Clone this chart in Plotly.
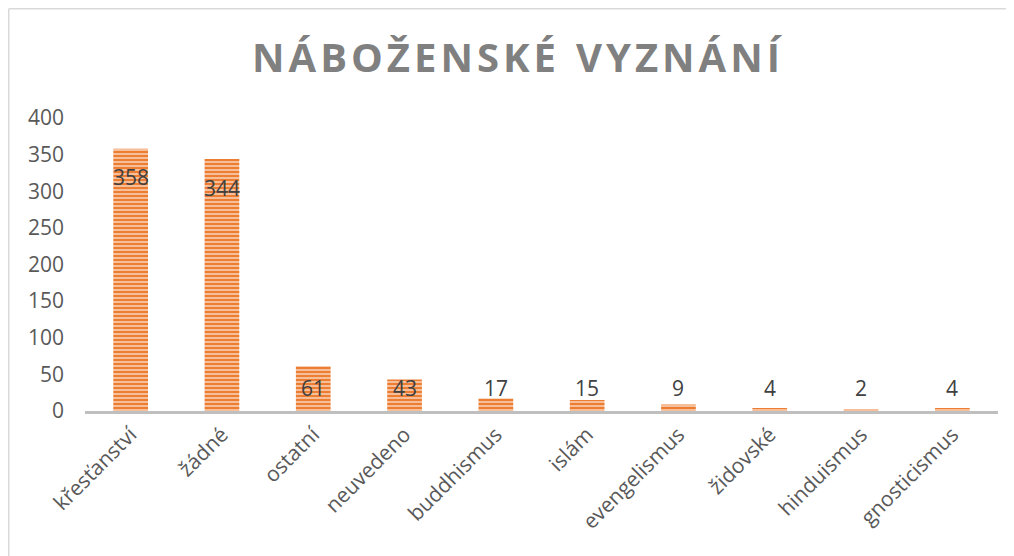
import plotly.graph_objects as go

categories = ["křesťanství", "žádné", "ostatní", "neuvedeno", "buddhismus",
              "islám", "evengelismus", "židovské", "hinduismus", "gnosticismus"]
values = [358, 344, 61, 43, 17, 15, 9, 4, 2, 4]
y_ticks = [0, 50, 100, 150, 200, 250, 300, 350, 400]

# page is offset by the default 8px body margin
OFF = 8
W, H = 1014 - OFF, 556 - OFF
L, R, T, B = 85 - OFF, 16, 118 - OFF, 145
pw, ph = W - L - R, H - T - B

def px_to_paper_x(px):
    return (px - L) / pw

def px_to_paper_y(py):
    return (H - B - py) / ph

fig = go.Figure()
fig.add_trace(go.Bar(
    x=categories, y=values,
    width=0.38,
    marker=dict(color="#F4B183",
                line=dict(width=0),
                pattern=dict(shape="-", fgcolor="#ED7D31", bgcolor="#F9CFB3",
                             fgopacity=1, size=4, solidity=0.6)),
    hoverinfo="skip",
))

for c, v in zip(categories, values):
    fig.add_annotation(x=c, y=max(v - 39, 32), text=str(v), showarrow=False,
                       font=dict(family="Open Sans, Liberation Sans, sans-serif",
                                 size=21, color="#404040"))

title_text = "\u200a".join(list("NÁBOŽENSKÉ")) + "\u2002" + "\u200a".join(list("VYZNÁNÍ"))

tick_font = dict(family="Open Sans, Liberation Sans, sans-serif", size=21, color="#595959")

fig.update_layout(
    width=W, height=H,
    margin=dict(l=L, r=R, t=T, b=B),
    paper_bgcolor="white", plot_bgcolor="white",
    showlegend=False,
    title=dict(text="<b>" + title_text + "</b>", x=(516 - OFF) / W, xanchor="center",
               y=1 - (58 - OFF) / H, yanchor="middle",
               font=dict(family="Open Sans, sans-serif", size=40, color="#808080")),
    xaxis=dict(showline=True, linecolor="#BFBFBF", linewidth=3, ticks="",
               tickangle=-45, showgrid=False, automargin=False,
               tickfont=tick_font),
    yaxis=dict(range=[0, 400], tickvals=y_ticks, showgrid=False, zeroline=False,
               showline=False, ticks="", ticklabelstandoff=20, automargin=False,
               tickfont=tick_font),
)

x0 = px_to_paper_x(0.75)
x1 = px_to_paper_x(W + 5)
y_top = px_to_paper_y(0.75)
y_bot = px_to_paper_y(H + 5)
fig.add_shape(type="line", xref="paper", yref="paper", x0=x0, x1=x0, y0=y_bot, y1=y_top,
              line=dict(color="#D9D9D9", width=1.5))
fig.add_shape(type="line", xref="paper", yref="paper", x0=x0, x1=x1, y0=y_top, y1=y_top,
              line=dict(color="#D9D9D9", width=1.5))

fig.write_html("out.html")
